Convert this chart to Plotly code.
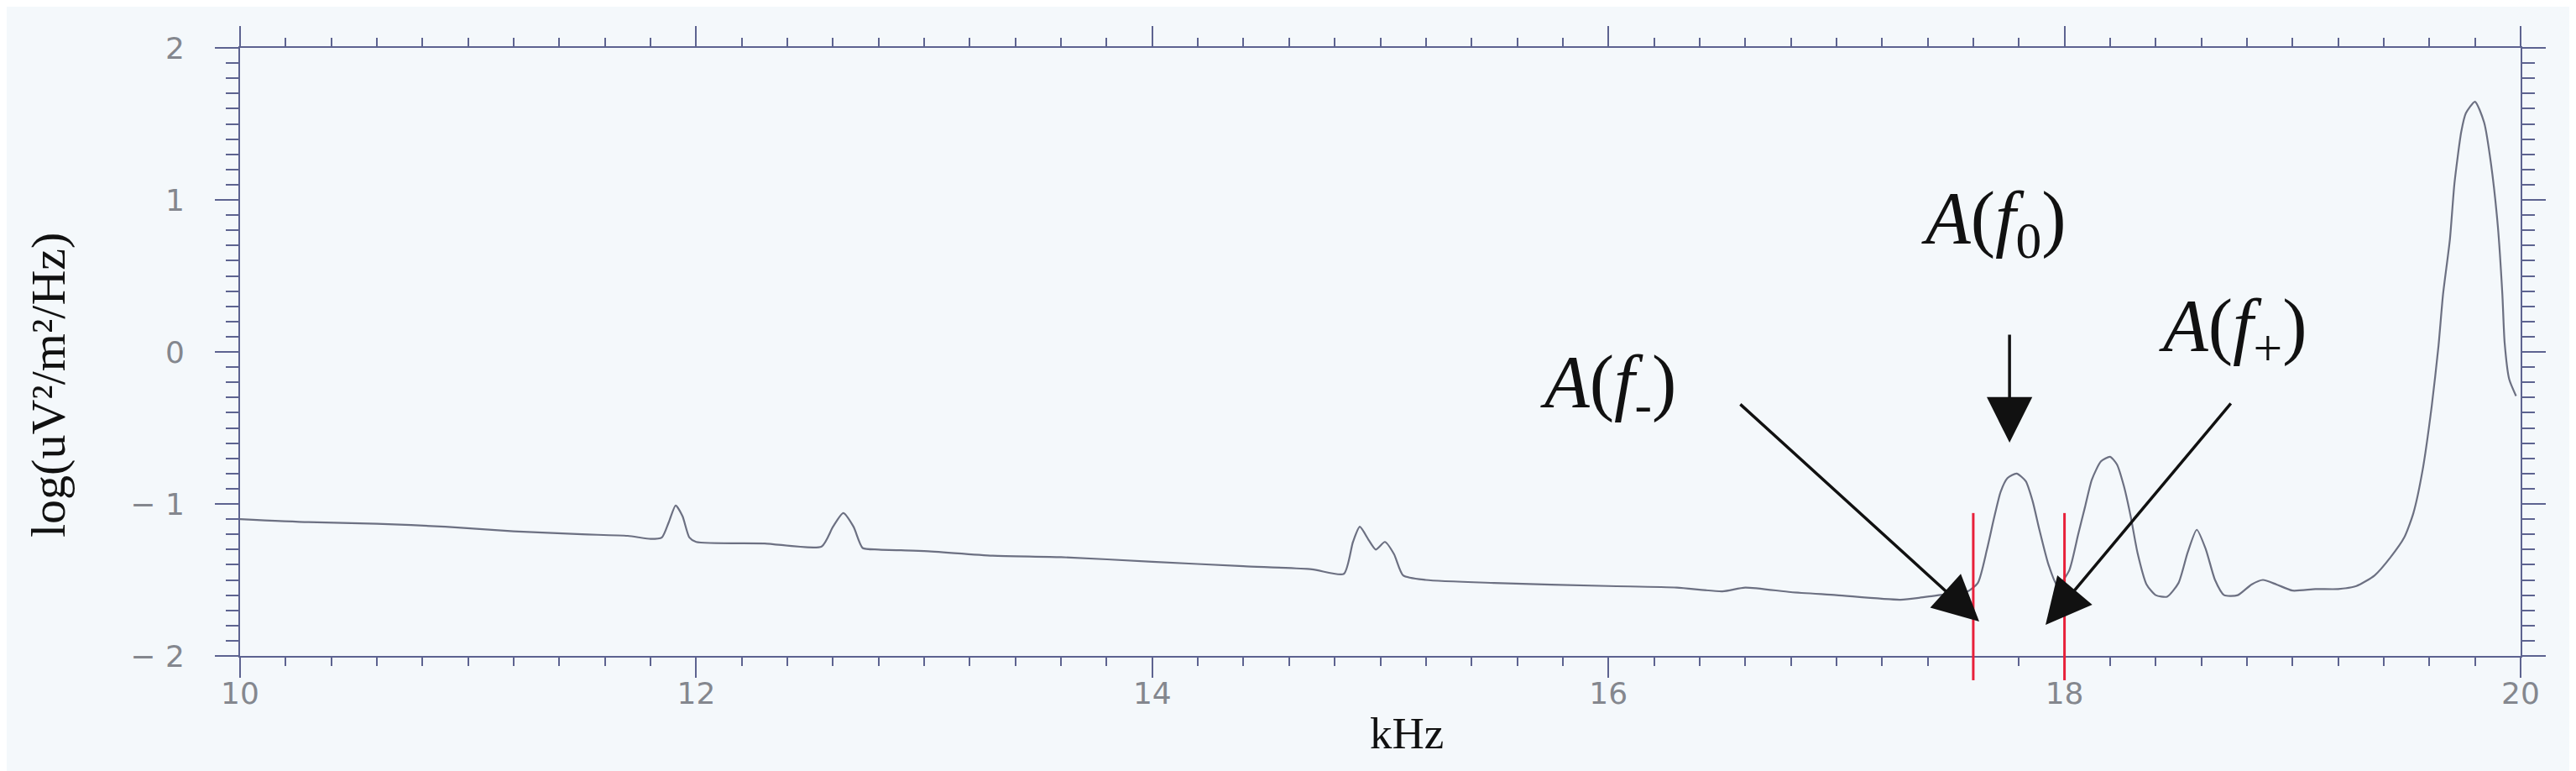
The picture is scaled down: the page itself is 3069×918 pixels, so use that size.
import plotly.graph_objects as go

# ---- data ----
freq_khz = [10.00, 10.30, 10.60, 10.90, 11.20, 11.50, 11.70, 11.80, 11.85, 11.88, 11.91, 11.94, 11.97,
            12.00, 12.30, 12.55, 12.60, 12.645, 12.69, 12.73, 12.80, 13.00, 13.30, 13.60, 14.00,
            14.40, 14.70, 14.84, 14.88, 14.91, 14.95, 14.98, 15.02, 15.06, 15.10, 15.20, 15.50,
            16.00, 16.30, 16.50, 16.60, 16.80, 17.00, 17.28, 17.40, 17.50, 17.57,
            17.62, 17.66, 17.69, 17.72, 17.75, 17.79, 17.83, 17.86, 17.89, 17.93, 17.97,
            18.02, 18.06, 18.09, 18.12, 18.16, 18.20, 18.23, 18.26, 18.29, 18.32, 18.36, 18.40,
            18.45, 18.50, 18.54, 18.58, 18.62, 18.66, 18.70, 18.76, 18.82, 18.87, 18.93, 19.00,
            19.10, 19.20, 19.28, 19.36, 19.43, 19.49, 19.53, 19.57, 19.61, 19.64, 19.66, 19.69,
            19.71, 19.74, 19.76, 19.80, 19.84, 19.87, 19.90, 19.92, 19.93, 19.95, 19.98]
log_psd = [-1.10, -1.12, -1.13, -1.15, -1.18, -1.20, -1.21, -1.23, -1.22, -1.12, -1.01, -1.08, -1.22,
           -1.25, -1.26, -1.28, -1.15, -1.06, -1.15, -1.29, -1.30, -1.31, -1.34, -1.35, -1.38,
           -1.41, -1.43, -1.46, -1.25, -1.15, -1.24, -1.30, -1.25, -1.33, -1.47, -1.50, -1.52,
           -1.54, -1.55, -1.575, -1.55, -1.58, -1.60, -1.63, -1.61, -1.59, -1.58,
           -1.52, -1.30, -1.10, -0.92, -0.83, -0.80, -0.85, -0.98, -1.17, -1.40, -1.54,
           -1.44, -1.20, -1.02, -0.84, -0.72, -0.69, -0.74, -0.88, -1.08, -1.32, -1.53, -1.60,
           -1.61, -1.52, -1.32, -1.17, -1.30, -1.50, -1.60, -1.60, -1.53, -1.50, -1.53, -1.57,
           -1.56, -1.56, -1.54, -1.47, -1.35, -1.22, -1.06, -0.78, -0.36, 0.04, 0.38, 0.74,
           1.11, 1.45, 1.57, 1.646, 1.51, 1.24, 0.83, 0.38, 0.06, -0.18, -0.29]

x_tick_vals = [10, 12, 14, 16, 18, 20]
x_tick_text = ["10", "12", "14", "16", "18", "20"]
y_tick_vals = [-2, -1, 0, 1, 2]
y_tick_text = ["\u2212 2", "\u2212 1", "0", "1", "2"]

sideband_khz = [17.6, 18.0]

label_text = ["<i>A</i>(<i>f</i><sub>-</sub>)", "<i>A</i>(<i>f</i><sub>0</sub>)",
              "<i>A</i>(<i>f</i><sub>+</sub>)"]
label_x = [16.00, 17.69, 18.74]
label_y = [-0.23, 0.85, 0.14]
tip_x = [17.626, 17.759, 17.917]
tip_y = [-1.773, -0.597, -1.796]
tail_x = [16.573, 17.759, 18.734]
tail_y = [-0.337, 0.122, -0.331]

BG = "#f4f8fb"
AXC = "#5d6390"

fig = go.Figure()
fig.add_trace(go.Scatter(
    x=freq_khz, y=log_psd, mode="lines",
    line=dict(color="#6c7082", width=2.2, shape="spline", smoothing=0.6),
    showlegend=False, hoverinfo="skip"))

for f in sideband_khz:
    fig.add_shape(type="line", xref="x", yref="paper", x0=f, x1=f, y0=-0.040, y1=0.235,
                  line=dict(color="#e8203a", width=3), layer="above")

for i in range(3):
    fig.add_annotation(x=tip_x[i], y=tip_y[i], ax=tail_x[i], ay=tail_y[i],
                       xref="x", yref="y", axref="x", ayref="y", text="",
                       showarrow=True, arrowhead=2, arrowsize=3.1, arrowwidth=3.5,
                       arrowcolor="#111111", standoff=0)
    fig.add_annotation(x=label_x[i], y=label_y[i], xref="x", yref="y", text=label_text[i],
                       showarrow=False, font=dict(family="Liberation Serif", size=88, color="#111111"))

fig.add_annotation(x=0.5116, y=-0.127, xref="paper", yref="paper", text="kHz", showarrow=False,
                   xanchor="center", yanchor="middle",
                   font=dict(family="Liberation Serif", size=53, color="#111111"))
fig.add_annotation(x=-0.0843, y=0.446, xref="paper", yref="paper", text="log(uV²/m²/Hz)",
                   textangle=-90, showarrow=False, xanchor="center", yanchor="middle",
                   font=dict(family="Liberation Serif", size=58, color="#111111"))

tickfont = dict(family="DejaVu Sans", size=36, color="#84878e")
fig.update_xaxes(range=[10, 20], tickvals=x_tick_vals, ticktext=x_tick_text,
                 showline=True, linecolor=AXC, linewidth=2, mirror="allticks",
                 ticks="outside", ticklen=24, tickwidth=2, tickcolor=AXC,
                 minor=dict(ticks="outside", ticklen=10, tickwidth=2, tickcolor=AXC, dtick=0.2, showgrid=False),
                 showgrid=False, zeroline=False, tickfont=tickfont, ticklabelstandoff=-12)
fig.update_yaxes(range=[-2, 2], tickvals=y_tick_vals, ticktext=y_tick_text,
                 showline=True, linecolor=AXC, linewidth=2, mirror="allticks",
                 ticks="outside", ticklen=28, tickwidth=2, tickcolor=AXC,
                 minor=dict(ticks="outside", ticklen=15, tickwidth=2, tickcolor=AXC, dtick=0.1, showgrid=False),
                 showgrid=False, zeroline=False, tickfont=tickfont, ticklabelstandoff=29)

fig.update_layout(width=3069, height=918, autosize=False,
                  margin=dict(l=278, r=74, t=49, b=145),
                  paper_bgcolor=BG, plot_bgcolor=BG, showlegend=False)

fig.write_html("out.html")
